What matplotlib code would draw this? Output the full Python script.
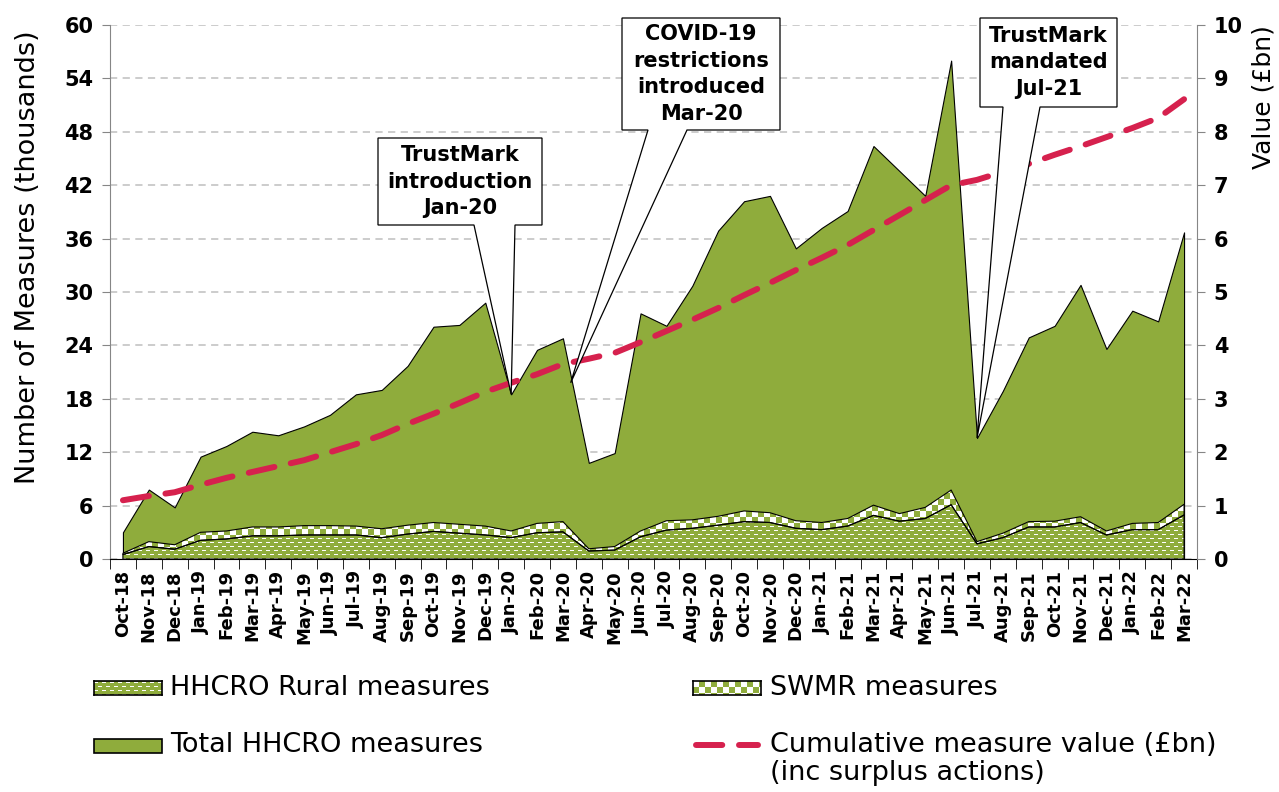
import numpy as np
import matplotlib
matplotlib.use("Agg")
import matplotlib.pyplot as plt
from matplotlib.patches import Polygon, Rectangle
from matplotlib.lines import Line2D

plt.rcParams["font.family"] = "DejaVu Sans"

# monthly data (thousands of measures, cumulative value in £bn)
months = ["Oct-18", "Nov-18", "Dec-18", "Jan-19", "Feb-19", "Mar-19", "Apr-19",
          "May-19", "Jun-19", "Jul-19", "Aug-19", "Sep-19", "Oct-19", "Nov-19",
          "Dec-19", "Jan-20", "Feb-20", "Mar-20", "Apr-20", "May-20", "Jun-20",
          "Jul-20", "Aug-20", "Sep-20", "Oct-20", "Nov-20", "Dec-20", "Jan-21",
          "Feb-21", "Mar-21", "Apr-21", "May-21", "Jun-21", "Jul-21", "Aug-21",
          "Sep-21", "Oct-21", "Nov-21", "Dec-21", "Jan-22", "Feb-22", "Mar-22"]

total = [3.0, 7.8, 5.8, 11.5, 12.7, 14.3, 13.9, 14.9, 16.2, 18.5, 19.0, 21.7,
         26.1, 26.3, 28.8, 18.5, 23.5, 24.8, 10.8, 11.9, 27.6, 26.2, 30.7, 36.9,
         40.2, 40.8, 34.9, 37.2, 39.1, 46.4, 43.6, 40.8, 56.0, 13.6, 18.9, 24.9,
         26.2, 30.8, 23.6, 27.9, 26.7, 36.7]

rural = [0.5, 1.4, 1.1, 2.1, 2.25, 2.6, 2.6, 2.7, 2.7, 2.7, 2.4, 2.8,
         3.1, 2.9, 2.7, 2.4, 2.95, 3.05, 0.9, 1.0, 2.5, 3.25, 3.45, 3.8,
         4.2, 4.1, 3.45, 3.3, 3.7, 4.9, 4.25, 4.55, 6.1, 1.7, 2.4, 3.6,
         3.6, 4.1, 2.7, 3.3, 3.3, 4.95]

swmr = [0.15, 0.55, 0.5, 0.9, 0.9, 1.0, 1.0, 1.05, 1.05, 1.0, 1.0, 1.0,
        1.0, 1.0, 1.0, 0.75, 1.05, 1.15, 0.25, 0.4, 0.65, 1.05, 0.95, 1.0,
        1.2, 1.1, 0.85, 0.8, 0.85, 1.15, 0.85, 1.25, 1.65, 0.25, 0.5, 0.6,
        0.65, 0.65, 0.45, 0.7, 0.8, 1.2]

cumulative = [1.10, 1.18, 1.25, 1.39, 1.52, 1.63, 1.74, 1.85, 2.00, 2.15, 2.32,
              2.53, 2.72, 2.92, 3.13, 3.30, 3.46, 3.65, 3.75, 3.86, 4.06, 4.27,
              4.48, 4.70, 4.94, 5.17, 5.41, 5.64, 5.88, 6.16, 6.44, 6.72, 7.00,
              7.10, 7.25, 7.40, 7.57, 7.73, 7.90, 8.07, 8.26, 8.61]

legend_labels = ["HHCRO Rural measures", "SWMR measures", "Total HHCRO measures",
                 "Cumulative measure value (£bn)\n(inc surplus actions)"]

GREEN = "#8FAC3C"
RED = "#D6214E"
W, H = 1279, 792
AX_L, AX_R, AX_T, AX_B = 110, 1197, 25, 559


def pattern(kind, h, w):
    yy, xx = np.mgrid[0:h, 0:w]
    if kind == "check":
        white = ((xx // 6 + yy // 6) % 2) == 0
    else:
        shift = ((yy // 4) % 2) * 4
        white = (yy % 4 == 1) & (((xx + shift) % 8) < 4)
    img = np.empty((h, w, 3))
    img[:] = matplotlib.colors.to_rgb(GREEN)
    img[white] = 1.0
    return img


def fig_xy(px, py):
    return px / W, 1 - py / H


fig = plt.figure(figsize=(W / 100, H / 100), dpi=100)
ax = fig.add_axes([AX_L / W, 1 - AX_B / H, (AX_R - AX_L) / W, (AX_B - AX_T) / H])
ax2 = ax.twinx()

x = np.arange(len(months))
top = np.array(rural) + np.array(swmr)

ax.fill_between(x, 0, total, facecolor=GREEN, edgecolor="black", lw=0.8, zorder=2)
swmr_poly = ax.fill_between(x, rural, top, facecolor="none", edgecolor="black", lw=0.8, zorder=4)
rural_poly = ax.fill_between(x, 0, rural, facecolor="none", edgecolor="black", lw=0.8, zorder=4)
for poly, kind in [(swmr_poly, "check"), (rural_poly, "dash")]:
    im = ax.imshow(pattern(kind, AX_B - AX_T, AX_R - AX_L),
                   extent=(-0.5, len(months) - 0.5, 0, 60),
                   aspect="auto", interpolation="nearest", zorder=3)
    im.set_clip_path(poly.get_paths()[0], transform=ax.transData)

ax.set_xlim(-0.5, len(months) - 0.5)
ax.set_ylim(0, 60)
ax.set_yticks(np.arange(0, 61, 6))
ax.set_xticks(x)
ax.set_xticklabels(months, rotation=90, fontweight="bold", fontsize=13)
ax.set_xticks(np.arange(-0.5, len(months), 1), minor=True)
ax.tick_params(axis="x", which="major", length=0, pad=8)
ax.tick_params(axis="x", which="minor", length=7, color="black")
ax.tick_params(axis="y", length=6, color="#868686", labelsize=15, pad=6)
for lab in ax.get_yticklabels():
    lab.set_fontweight("bold")
ax.set_axisbelow(True)
ax.yaxis.grid(True, color="#C8C8C8", lw=1.3, linestyle=(0, (4, 3)))

ax2.plot(x, cumulative, color=RED, lw=4.3, dashes=(4.4, 2.8),
         dash_capstyle="round", zorder=5)
ax2.set_ylim(0, 10)
ax2.set_yticks(np.arange(0, 11, 1))
ax2.tick_params(axis="y", length=6, color="#868686", labelsize=15, pad=6)
for lab in ax2.get_yticklabels():
    lab.set_fontweight("bold")

for a in (ax, ax2):
    a.spines["top"].set_visible(False)
ax.spines["left"].set_color("#868686")
ax.spines["right"].set_visible(False)
ax.spines["bottom"].set_color("black")
ax2.spines["right"].set_color("#868686")
ax2.spines["left"].set_visible(False)
ax2.spines["bottom"].set_visible(False)

fig.text(28 / W, 1 - 257 / H, "Number of Measures (thousands)", rotation=90,
         ha="center", va="center", fontsize=19.5)
fig.text(1264 / W, 1 - 25 / H, "Value (£bn)", rotation=90,
         ha="center", va="top", fontsize=18)

# callouts: text, box (x0, y0, x1, y1) in pixels, wedge base, data tip
callouts = [
    ("TrustMark\nintroduction\nJan-20", (378, 138, 542, 225), (474, 515), (15, total[15])),
    ("COVID-19\nrestrictions\nintroduced\nMar-20", (622, 18, 780, 130), (648, 687), (17.3, 19.8)),
    ("TrustMark\nmandated\nJul-21", (980, 18, 1117, 107), (1003, 1040), (33, total[33])),
]
inv = fig.transFigure.inverted()
for text, (x0, y0, x1, y1), (b0, b1), tip in callouts:
    tx, ty = inv.transform(ax.transData.transform(tip))
    pts = [fig_xy(x0, y0), fig_xy(x1, y0), fig_xy(x1, y1), fig_xy(b1, y1),
           (tx, ty), fig_xy(b0, y1), fig_xy(x0, y1)]
    fig.add_artist(Polygon(pts, closed=True, fc="white", ec="black", lw=0.9,
                           transform=fig.transFigure, zorder=10))
    cx, cy = fig_xy((x0 + x1) / 2, (y0 + y1) / 2)
    fig.text(cx, cy, text, ha="center", va="center", fontsize=15,
             fontweight="bold", linespacing=1.4, zorder=11)

# legend
def swatch(x0, y0, x1, y1, kind):
    sax = fig.add_axes([x0 / W, 1 - y1 / H, (x1 - x0) / W, (y1 - y0) / H])
    sax.imshow(pattern(kind, y1 - y0, x1 - x0), aspect="auto", interpolation="nearest")
    sax.set_xticks([])
    sax.set_yticks([])
    for s in sax.spines.values():
        s.set_linewidth(1.2)

swatch(94, 681, 162, 695, "dash")
swatch(693, 681, 761, 695, "check")
fig.add_artist(Rectangle(fig_xy(94, 753), 68 / W, 14 / H, fc=GREEN, ec="black",
                         lw=1.2, transform=fig.transFigure))
lx0, ly = fig_xy(696, 745)
lx1, _ = fig_xy(758, 745)
fig.add_artist(Line2D([lx0, lx1], [ly, ly], color=RED, lw=4.3, dashes=(4.4, 2.8),
                      dash_capstyle="round", transform=fig.transFigure))

fs = 19.5
fig.text(170 / W, 1 - 688 / H, legend_labels[0], va="center", fontsize=fs)
fig.text(770 / W, 1 - 688 / H, legend_labels[1], va="center", fontsize=fs)
fig.text(170 / W, 1 - 745 / H, legend_labels[2], va="center", fontsize=fs)
fig.text(770 / W, 1 - 732 / H, legend_labels[3], va="top", fontsize=fs,
         linespacing=1.1)

fig.savefig("out.png", dpi=100)
